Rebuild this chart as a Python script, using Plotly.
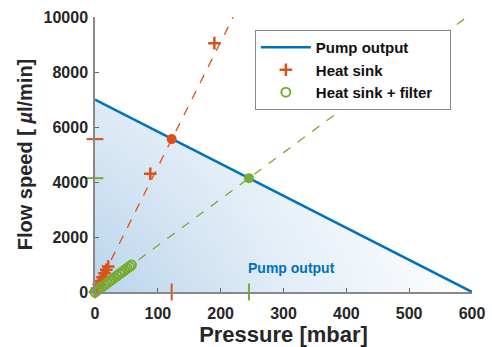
import plotly.graph_objects as go

# ---- data ----
pump_p = [0, 600]
pump_q = [7000, 0]

hs_p = [0, 3, 6, 9, 12, 15, 18, 21, 88, 190]
hs_q = [0, 130, 270, 400, 540, 680, 810, 930, 4300, 9050]

hsf_p = [0, 3, 7, 11, 15, 19, 23, 27, 31, 35, 39, 43, 47, 51, 55, 58]
hsf_q = [0, 50, 120, 190, 250, 320, 390, 450, 520, 590, 660, 720, 790, 860, 920, 980]

hs_fit_p = [0, 220]
hs_fit_q = [0, 10000]
hsf_fit_p = [0, 592]
hsf_fit_q = [0, 10000]

hs_op = (122, 5560)
hsf_op = (245, 4140)

x_ticks = [0, 100, 200, 300, 400, 500, 600]
y_ticks = [0, 2000, 4000, 6000, 8000, 10000]

BLUE = "#0072BD"
RED = "#D95319"
GREEN = "#77AC30"
FONT = "Liberation Sans"
TXT = "#262626"

fig = go.Figure()

# gradient fill under pump curve: blue fading to the right, white veil growing upward
fig.add_trace(go.Scatter(
    x=pump_p, y=pump_q, mode="lines", line=dict(width=0), fill="tozeroy",
    fillgradient=dict(type="horizontal", start=min(pump_p), stop=max(pump_p),
                      colorscale=[[0, "rgba(120,172,217,0.52)"], [0.5, "rgba(120,172,217,0.22)"],
                                  [1, "rgba(120,172,217,0)"]]),
    showlegend=False, hoverinfo="skip"))
fig.add_trace(go.Scatter(
    x=pump_p, y=pump_q, mode="lines", line=dict(width=0), fill="tozeroy",
    fillgradient=dict(type="vertical", start=min(pump_q), stop=max(pump_q),
                      colorscale=[[0, "rgba(255,255,255,0)"], [1, "rgba(255,255,255,0.55)"]]),
    showlegend=False, hoverinfo="skip"))

# fit lines
fig.add_trace(go.Scatter(x=hs_fit_p, y=hs_fit_q, mode="lines",
                         line=dict(color=RED, width=1.3, dash="dash"), showlegend=False))
fig.add_trace(go.Scatter(x=hsf_fit_p, y=hsf_fit_q, mode="lines",
                         line=dict(color=GREEN, width=1.3, dash="dash"), showlegend=False))

# pump output line
fig.add_trace(go.Scatter(x=pump_p, y=pump_q, mode="lines", name="<b>Pump output</b>", legendgroup="a",
                         line=dict(color=BLUE, width=2.5), cliponaxis=False))

# measurements
fig.add_trace(go.Scatter(x=hs_p, y=hs_q, mode="markers", name="<b>Heat sink</b>", legendgroup="b",
                         marker=dict(symbol="cross-thin", size=9, line=dict(color=RED, width=2.5), color=RED),
                         cliponaxis=False))
fig.add_trace(go.Scatter(x=hsf_p, y=hsf_q, mode="markers",
                         name="<b>Heat sink + filter</b>\u00a0\u00a0\u00a0", legendgroup="c",
                         marker=dict(symbol="circle-open", size=9, line=dict(width=2), color=GREEN),
                         cliponaxis=False))

# operating points
fig.add_trace(go.Scatter(x=[hs_op[0]], y=[hs_op[1]], mode="markers", showlegend=False,
                         marker=dict(size=10, color=RED)))
fig.add_trace(go.Scatter(x=[hsf_op[0]], y=[hsf_op[1]], mode="markers", showlegend=False,
                         marker=dict(size=10, color=GREEN)))

# axis markers of operating points
for (px, qy), c in ((hs_op, RED), (hsf_op, GREEN)):
    fig.add_trace(go.Scatter(x=[0], y=[qy], mode="markers", showlegend=False, cliponaxis=False,
                             marker=dict(symbol="line-ew", size=12, line=dict(color=c, width=2))))
    fig.add_trace(go.Scatter(x=[px], y=[0], mode="markers", showlegend=False, cliponaxis=False,
                             marker=dict(symbol="line-ns", size=12, line=dict(color=c, width=2))))

fig.add_annotation(x=312, y=870, text="<b>Pump output</b>", showarrow=False,
                   font=dict(family=FONT, size=14, color=BLUE))

axis_common = dict(showline=True, linecolor="#888888", linewidth=1.5, ticks="inside",
                   ticklen=4, tickcolor="#666666", tickwidth=1, showgrid=False, zeroline=False,
                   automargin=False,
                   tickfont=dict(family=FONT, size=16, color=TXT))

fig.update_layout(
    width=492, height=347,
    margin=dict(l=95, r=20, t=17, b=55),
    plot_bgcolor="white", paper_bgcolor="white",
    xaxis=dict(range=[0, 600], tickvals=x_ticks, ticktext=[f"<b>{v}</b>" for v in x_ticks],
               ticklabelstandoff=6,
               title=dict(text="<b>Pressure [mbar]</b>", font=dict(family=FONT, size=22, color=TXT), standoff=12),
               **axis_common),
    yaxis=dict(range=[0, 10000], tickvals=y_ticks, ticktext=[f"<b>{v}</b>" for v in y_ticks],
               ticklabelstandoff=2,
               title=dict(text="<b>Flow speed [ <i>µ</i>l/min]</b>", font=dict(family=FONT, size=20, color=TXT), standoff=6),
               **axis_common),
    legend=dict(x=0.424, y=0.953, xanchor="left", yanchor="top", bgcolor="white",
                bordercolor="#888888", borderwidth=1,
                font=dict(family=FONT, size=15, color="#111111"),
                itemwidth=50, tracegroupgap=0),
    showlegend=True,
)

fig.write_html("out.html")
